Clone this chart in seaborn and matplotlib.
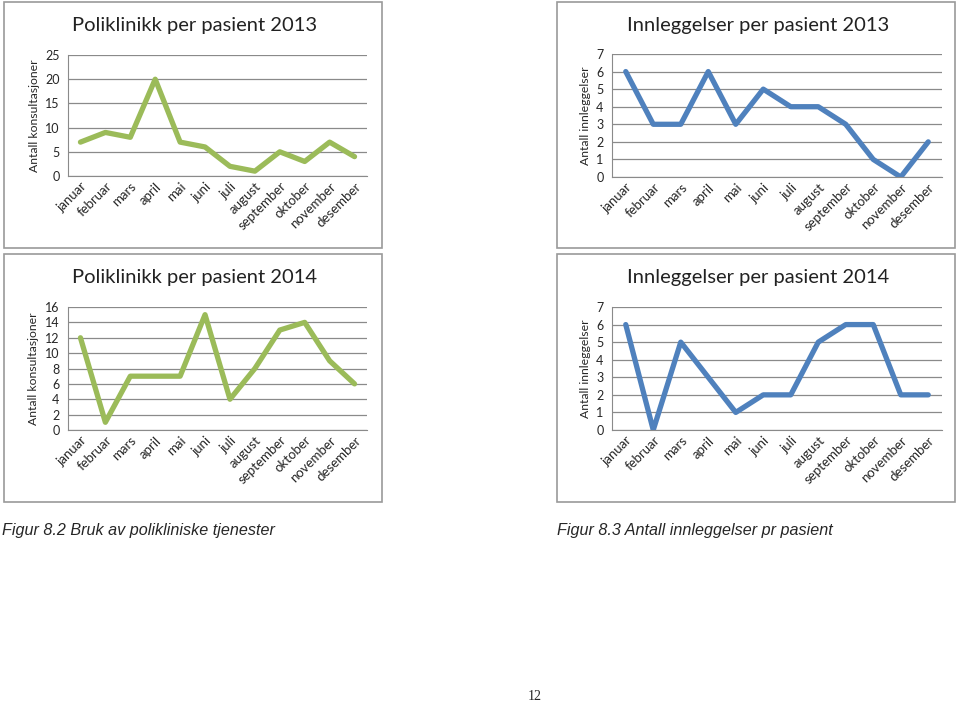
import matplotlib
matplotlib.use("Agg")
import matplotlib.pyplot as plt
import seaborn as sns
import pandas as pd
from matplotlib.patches import Rectangle

# data
months = ["januar", "februar", "mars", "april", "mai", "juni", "juli",
          "august", "september", "oktober", "november", "desember"]
poli_2013 = [7, 9, 8, 20, 7, 6, 2, 1, 5, 3, 7, 4]
poli_2014 = [12, 1, 7, 7, 7, 15, 4, 8, 13, 14, 9, 6]
inn_2013 = [6, 3, 3, 6, 3, 5, 4, 4, 3, 1, 0, 2]
inn_2014 = [6, 0, 5, 3, 1, 2, 2, 5, 6, 6, 2, 2]

sns.set_style("white")
plt.rcParams['font.family'] = ['Lato', 'DejaVu Sans']

W, H = 960, 704
fig = plt.figure(figsize=(9.6, 7.04), dpi=100)


def px_axes(x0, y0, x1, y1):
    return fig.add_axes([x0 / W, 1 - y1 / H, (x1 - x0) / W, (y1 - y0) / H])


def frame(x0, y0, x1, y1):
    fig.patches.append(Rectangle((x0 / W, 1 - y1 / H), (x1 - x0) / W, (y1 - y0) / H,
                                 transform=fig.transFigure, fill=False,
                                 edgecolor="#9a9a9a", linewidth=1.2))


panels = [
    # values, color, title, ylabel, ymax, step, frame box, axes box
    (poli_2013, "#9BBB59", "Poliklinikk per pasient 2013", "Antall konsultasjoner", 25, 5,
     (4, 2, 382, 248), (68, 55, 367, 176)),
    (poli_2014, "#9BBB59", "Poliklinikk per pasient 2014", "Antall konsultasjoner", 16, 2,
     (4, 254, 382, 502), (68, 307, 367, 430)),
    (inn_2013, "#4F81BD", "Innleggelser per pasient 2013", "Antall innleggelser", 7, 1,
     (557, 2, 955, 248), (612, 54, 942, 177)),
    (inn_2014, "#4F81BD", "Innleggelser per pasient 2014", "Antall innleggelser", 7, 1,
     (557, 254, 955, 502), (612, 307, 942, 430)),
]

for vals, color, title, ylabel, ymax, step, fbox, abox in panels:
    frame(*fbox)
    ax = px_axes(*abox)
    df = pd.DataFrame({"month": months, "value": vals})
    sns.lineplot(data=df, x="month", y="value", ax=ax, color=color,
                 linewidth=3.8, sort=False)
    ax.set_xlim(-0.5, len(months) - 0.5)
    ax.set_ylim(0, ymax)
    ax.set_yticks(range(0, ymax + 1, step))
    ax.yaxis.grid(True, color="#8a8a8a", linewidth=0.9)
    ax.set_axisbelow(True)
    for s in ["top", "right"]:
        ax.spines[s].set_visible(False)
    ax.spines["left"].set_color("#8a8a8a")
    ax.spines["bottom"].set_color("#8a8a8a")
    ax.tick_params(axis="y", labelsize=9, length=3, color="#8a8a8a", pad=3)
    ax.tick_params(axis="x", labelsize=9.5, length=0, pad=3)
    plt.setp(ax.get_xticklabels(), rotation=45, ha="right", rotation_mode="anchor")
    ax.set_xlabel("")
    ax.set_ylabel(ylabel, fontsize=8.8, labelpad=4)
    cx = (fbox[0] + fbox[2]) / 2 + 2
    fig.text(cx / W, 1 - (fbox[1] + 23) / H, title, fontsize=14.5,
             ha="center", va="center", color="#222222")

fig.text(2 / W, 1 - 531 / H, "Figur 8.2 Bruk av polikliniske tjenester",
         fontsize=11.6, style="italic", family="Liberation Sans", va="center")
fig.text(557 / W, 1 - 531 / H, "Figur 8.3 Antall innleggelser pr pasient",
         fontsize=11.6, style="italic", family="Liberation Sans", va="center")
fig.text(535 / W, 1 - 697 / H, "12", fontsize=10, family="Liberation Serif",
         ha="center", va="center")

fig.savefig("out.png", dpi=100)
